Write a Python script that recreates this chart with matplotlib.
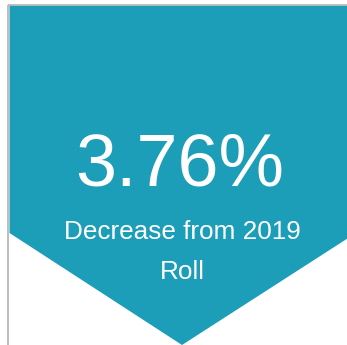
import matplotlib
matplotlib.use("Agg")
import matplotlib.pyplot as plt
from matplotlib.patches import Polygon

# KPI content
value_pct = 3.76
caption_lines = ["Decrease from 2019", "Roll"]

fill_color = "#1c9db8"
border_color = "#b4b4b4"

W, H = 347, 345
fig = plt.figure(figsize=(W / 100, H / 100), dpi=100)
ax = fig.add_axes([0, 0, 1, 1])
ax.set_xlim(0, W)
ax.set_ylim(H, 0)
ax.axis("off")

# thin frame on the top and left
ax.plot([8.5, 8.5], [H, 4.5], color=border_color, lw=1.2, solid_capstyle="butt")
ax.plot([8.5, W], [4.5, 4.5], color=border_color, lw=1.2, solid_capstyle="butt")

# downward chevron banner
tip_x = 182
banner = Polygon(
    [(9.5, 5.5), (356, 5.5), (356, 233), (tip_x, 345), (9.5, 233)],
    closed=True, facecolor=fill_color, edgecolor="none",
)
ax.add_patch(banner)

font = ["Liberation Sans", "DejaVu Sans"]
ax.text(179.5, 185, f"{value_pct:.2f}%", color="white", fontsize=53,
        ha="center", va="baseline", family=font)
ax.text(182, 239, caption_lines[0], color="white", fontsize=18.8,
        ha="center", va="baseline", family=font)
ax.text(182, 279, caption_lines[1], color="white", fontsize=18.8,
        ha="center", va="baseline", family=font)

fig.savefig("out.png", dpi=100, facecolor="white")
